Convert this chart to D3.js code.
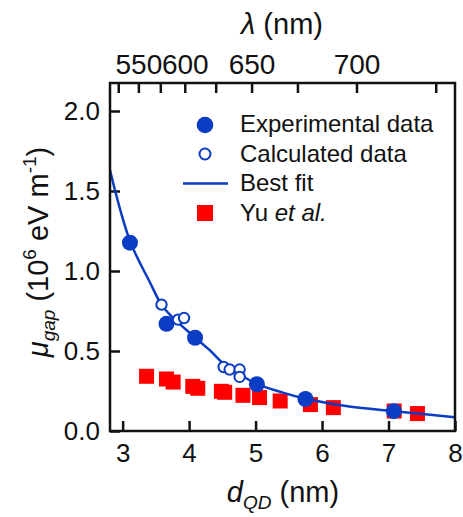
<!DOCTYPE html>
<html>
<head>
<meta charset="utf-8">
<script src="https://cdn.jsdelivr.net/npm/d3@7"></script>
<style>
  html, body { margin: 0; padding: 0; background: #fff; }
  svg { display: block; }
  text { font-family: "Liberation Sans", Arial, Helvetica, sans-serif; fill: #111; }
</style>
</head>
<body>
<svg id="chart" width="463" height="517"></svg>
<script>
// ---------------- data ----------------
const expD  = [3.11, 3.66, 4.09, 5.02, 5.75, 7.08];
const expMu = [1.177, 0.670, 0.583, 0.292, 0.200, 0.124];

const calcD  = [3.585, 3.834, 3.924, 4.52, 4.61, 4.76, 4.76];
const calcMu = [0.790, 0.696, 0.706, 0.400, 0.384, 0.384, 0.338];

const yuD  = [3.36, 3.66, 3.76, 4.055, 4.13, 4.485, 4.535, 4.81, 5.06, 5.37, 5.825, 6.17, 7.085, 7.435];
const yuMu = [0.342, 0.325, 0.306, 0.279, 0.267, 0.248, 0.242, 0.223, 0.209, 0.1875, 0.165, 0.146, 0.125, 0.109];

const fitD  = [2.80, 3.11, 3.41, 3.59, 3.74, 4.09, 4.31, 4.52, 4.76, 5.00, 5.41, 5.74, 6.41, 7.085, 8.00];
const fitMu = [1.646, 1.188, 0.930, 0.785, 0.715, 0.584, 0.505, 0.420, 0.355, 0.298, 0.240, 0.203, 0.153, 0.124, 0.086];

const xTicks = [3, 4, 5, 6, 7, 8];
const yTicks = [0.0, 0.5, 1.0, 1.5, 2.0];

// wavelength (top axis) ticks and the d_QD where each sits
const lambdaTicks   = [525, 550, 575, 600, 625, 650, 675, 700, 725];
const lambdaTickD   = [2.934, 3.237, 3.567, 3.935, 4.40, 4.94, 5.63, 6.518, 7.71];
const lambdaLabeled = [550, 600, 650, 700];

const legendItems = ["Experimental data", "Calculated data", "Best fit", "Yu"];

// ---------------- layout ----------------
const blue = "#0a3cc4";
const red = "#ff0000";
const L = 110, R = 455, T = 83, B = 431;

const svg = d3.select("#chart");
const x = d3.scaleLinear().domain([2.81, 8]).range([L, R]);
const y = d3.scaleLinear().domain([0, 2.175]).range([B, T]);

svg.append("defs").append("clipPath").attr("id", "clip")
  .append("rect").attr("x", L).attr("y", T).attr("width", R - L).attr("height", B - T);

// axes
const fs = 26;
const gx = svg.append("g").attr("transform", `translate(0,${B})`)
  .call(d3.axisBottom(x).tickValues(xTicks).tickFormat(d3.format("d")).tickSize(-10).tickPadding(13));
const gy = svg.append("g").attr("transform", `translate(${L},0)`)
  .call(d3.axisLeft(y).tickValues(yTicks).tickFormat(d3.format(".1f")).tickSize(-10).tickPadding(10));
const lamIndex = new Map(lambdaTickD.map((d, i) => [d, lambdaTicks[i]]));
const gt = svg.append("g").attr("transform", `translate(0,${T})`)
  .call(d3.axisTop(x).tickValues(lambdaTickD)
    .tickFormat(d => { const l = lamIndex.get(d); return lambdaLabeled.includes(l) ? String(l) : ""; })
    .tickSize(-10).tickPadding(9));

[gx, gy, gt].forEach(g => {
  g.select(".domain").remove();
  g.selectAll(".tick line").attr("stroke", "#111").attr("stroke-width", 2.5);
  g.selectAll(".tick text").attr("font-size", fs).attr("fill", "#111")
    .style("font-family", '"Liberation Sans", Arial, sans-serif');
});
gt.selectAll(".tick text").attr("font-size", 28);

// data layers (clipped)
const plot = svg.append("g").attr("clip-path", "url(#clip)");

plot.selectAll("rect.yu").data(yuD.map((d, i) => [d, yuMu[i]])).enter()
  .append("rect").attr("class", "yu")
  .attr("x", d => x(d[0]) - 7.5).attr("y", d => y(d[1]) - 7.5)
  .attr("width", 15).attr("height", 15).attr("fill", red);

const line = d3.line().x(d => x(d[0])).y(d => y(d[1])).curve(d3.curveCatmullRom.alpha(0.5));
plot.append("path").datum(fitD.map((d, i) => [d, fitMu[i]]))
  .attr("d", line).attr("fill", "none").attr("stroke", blue).attr("stroke-width", 2.5);

plot.selectAll("circle.exp").data(expD.map((d, i) => [d, expMu[i]])).enter()
  .append("circle").attr("class", "exp")
  .attr("cx", d => x(d[0])).attr("cy", d => y(d[1])).attr("r", 8).attr("fill", blue);

plot.selectAll("circle.calc").data(calcD.map((d, i) => [d, calcMu[i]])).enter()
  .append("circle").attr("class", "calc")
  .attr("cx", d => x(d[0])).attr("cy", d => y(d[1])).attr("r", 5.2)
  .attr("fill", "#fff").attr("stroke", blue).attr("stroke-width", 2);

// frame
svg.append("rect").attr("x", L).attr("y", T).attr("width", R - L).attr("height", B - T)
  .attr("fill", "none").attr("stroke", "#111").attr("stroke-width", 2.5);

// legend
const lg = svg.append("g");
const markY = [125, 154, 183.5, 213];
const textY = [132, 161.5, 191, 220.5];
lg.append("circle").attr("cx", 205).attr("cy", markY[0]).attr("r", 8.3).attr("fill", blue);
lg.append("circle").attr("cx", 205).attr("cy", markY[1]).attr("r", 5.5)
  .attr("fill", "#fff").attr("stroke", blue).attr("stroke-width", 2);
lg.append("line").attr("x1", 183).attr("x2", 228).attr("y1", markY[2]).attr("y2", markY[2])
  .attr("stroke", blue).attr("stroke-width", 2.5);
lg.append("rect").attr("x", 205 - 8).attr("y", markY[3] - 8).attr("width", 16).attr("height", 16).attr("fill", red);
legendItems.forEach((t, i) => {
  const tx = lg.append("text").attr("x", 240).attr("y", textY[i]).attr("font-size", 24).text(t);
  if (i === 3) tx.append("tspan").attr("font-style", "italic").text(" et al.");
});

// axis titles
const tfs = 29;
const xt = svg.append("text").attr("x", 283).attr("y", 502).attr("text-anchor", "middle").attr("font-size", tfs);
xt.append("tspan").attr("font-style", "italic").text("d");
xt.append("tspan").attr("font-style", "italic").attr("font-size", 19).attr("dy", 7).text("QD");
xt.append("tspan").attr("dy", -7).text(" (nm)");

const tt = svg.append("text").attr("x", 282).attr("y", 34).attr("text-anchor", "middle").attr("font-size", tfs);
tt.append("tspan").attr("font-style", "italic").text("λ");
tt.append("tspan").text(" (nm)");

const yt = svg.append("text").attr("transform", "translate(48,252) rotate(-90)")
  .attr("text-anchor", "middle").attr("font-size", tfs);
yt.append("tspan").attr("font-style", "italic").text("μ");
yt.append("tspan").attr("font-style", "italic").attr("font-size", 19).attr("dy", 7).text("gap");
yt.append("tspan").attr("dy", -7).text(" (10");
yt.append("tspan").attr("font-size", 19).attr("dy", -12).text("6");
yt.append("tspan").attr("dy", 12).text(" eV m");
yt.append("tspan").attr("font-size", 19).attr("dy", -12).text("-1");
yt.append("tspan").attr("dy", 12).text(")");
</script>
</body>
</html>
